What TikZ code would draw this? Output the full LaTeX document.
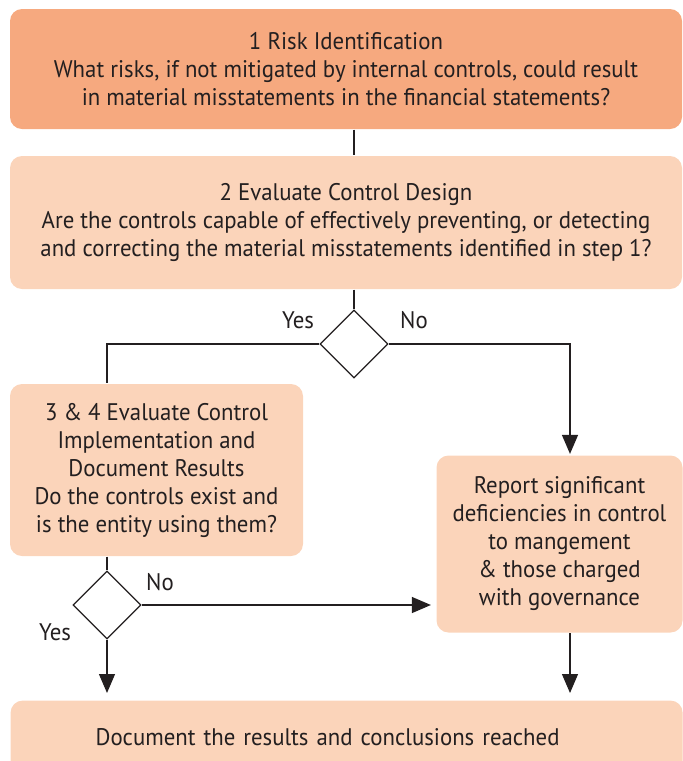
\documentclass[tikz,border=0pt]{standalone}
\usepackage{fontspec}
\setmainfont{PT Sans}[FakeStretch=0.95]
\usepackage{xcolor}
\usepackage{tikz}
\usetikzlibrary{arrows.meta, shapes.geometric, positioning, calc}
\definecolor{riskfill}{HTML}{F6A97F}
\definecolor{stepfill}{HTML}{FBD4BA}
\definecolor{linecol}{HTML}{231F20}

\begin{document}
\begin{tikzpicture}[x=0.5pt, y=-0.5pt, >={Triangle[length=9.5pt, width=8pt]},
    font=\fontsize{12}{14}\selectfont, line width=0.6pt,
    box/.style={rounded corners=6pt, fill=stepfill, text=linecol, align=center, inner sep=0pt},
    decision/.style={diamond, draw=linecol, fill=white, inner sep=0pt,
                     minimum width=34pt, minimum height=34pt},
    lbl/.style={text=linecol, inner sep=0pt},
    conn/.style={draw=linecol}]
  % Cadre de l'image
  \useasboundingbox (0,0) rectangle (683,761);
  \clip (0,0) rectangle (683,761);
  % Boites
  \node[box, fill=riskfill, minimum width=336pt, minimum height=60pt] (risk) at (346,69)
      {1 Risk Identification\\
       What risks, if not mitigated by internal controls, could result\\
       in material misstatements in the financial statements?};
  \node[box, minimum width=336pt, minimum height=66.5pt] (design) at (346,222.5)
      {2 Evaluate Control Design\\
       Are the controls capable of effectively preventing, or detecting\\
       and correcting the material misstatements identified in step 1?};
  \node[decision] (dec1) at (354,344) {};
  \node[box, minimum width=146.5pt, minimum height=86pt] (impl) at (156.5,470)
      {3 \& 4 Evaluate Control\\ Implementation and\\ Document Results\\
       Do the controls exist and\\ is the entity using them?};
  \node[box, minimum width=123pt, minimum height=88.5pt] (report) at (559.5,544)
      {Report significant\\ deficiencies in control\\ to mangement\\
       \& those charged\\ with governance};
  \node[decision] (dec2) at (107,605) {};
  \node[box, anchor=north west, minimum height=36.5pt, text width=251pt, align=left,
        inner xsep=42.5pt] (doc) at (10,700)
      {Document the results and conclusions reached};
  % Etiquettes oui / non
  \node[lbl] (yes1) at ([shift={(-56,-24)}]dec1.center) {Yes};
  \node[lbl] (no1) at ([shift={(60,-24)}]dec1.center) {No};
  \node[lbl] (no2) at ([shift={(53,-23)}]dec2.center) {No};
  \node[lbl] (yes2) at ([shift={(-52,27)}]dec2.center) {Yes};
  % Liaisons
  \draw[conn] (risk.south -| dec1) -- (design.north -| dec1);
  \draw[conn] (design.south -| dec1) -- (dec1.north);
  \draw[conn] (dec1.west) -| (impl.north -| dec2);
  \draw[conn, ->, shorten >=0.5pt] (dec1.east) -| ([xshift=5.25pt]report.north);
  \draw[conn] (impl.south -| dec2) -- (dec2.north);
  \draw[conn, ->, shorten >=2.5pt] (dec2.east) -- (dec2.east -| report.west);
  \draw[conn, ->, shorten >=3.5pt] (dec2.south) -- (doc.north -| dec2);
  \draw[conn, ->, shorten >=3.5pt] ([xshift=5.25pt]report.south) -- ([xshift=5.25pt]doc.north -| report.south);
\end{tikzpicture}
\end{document}
